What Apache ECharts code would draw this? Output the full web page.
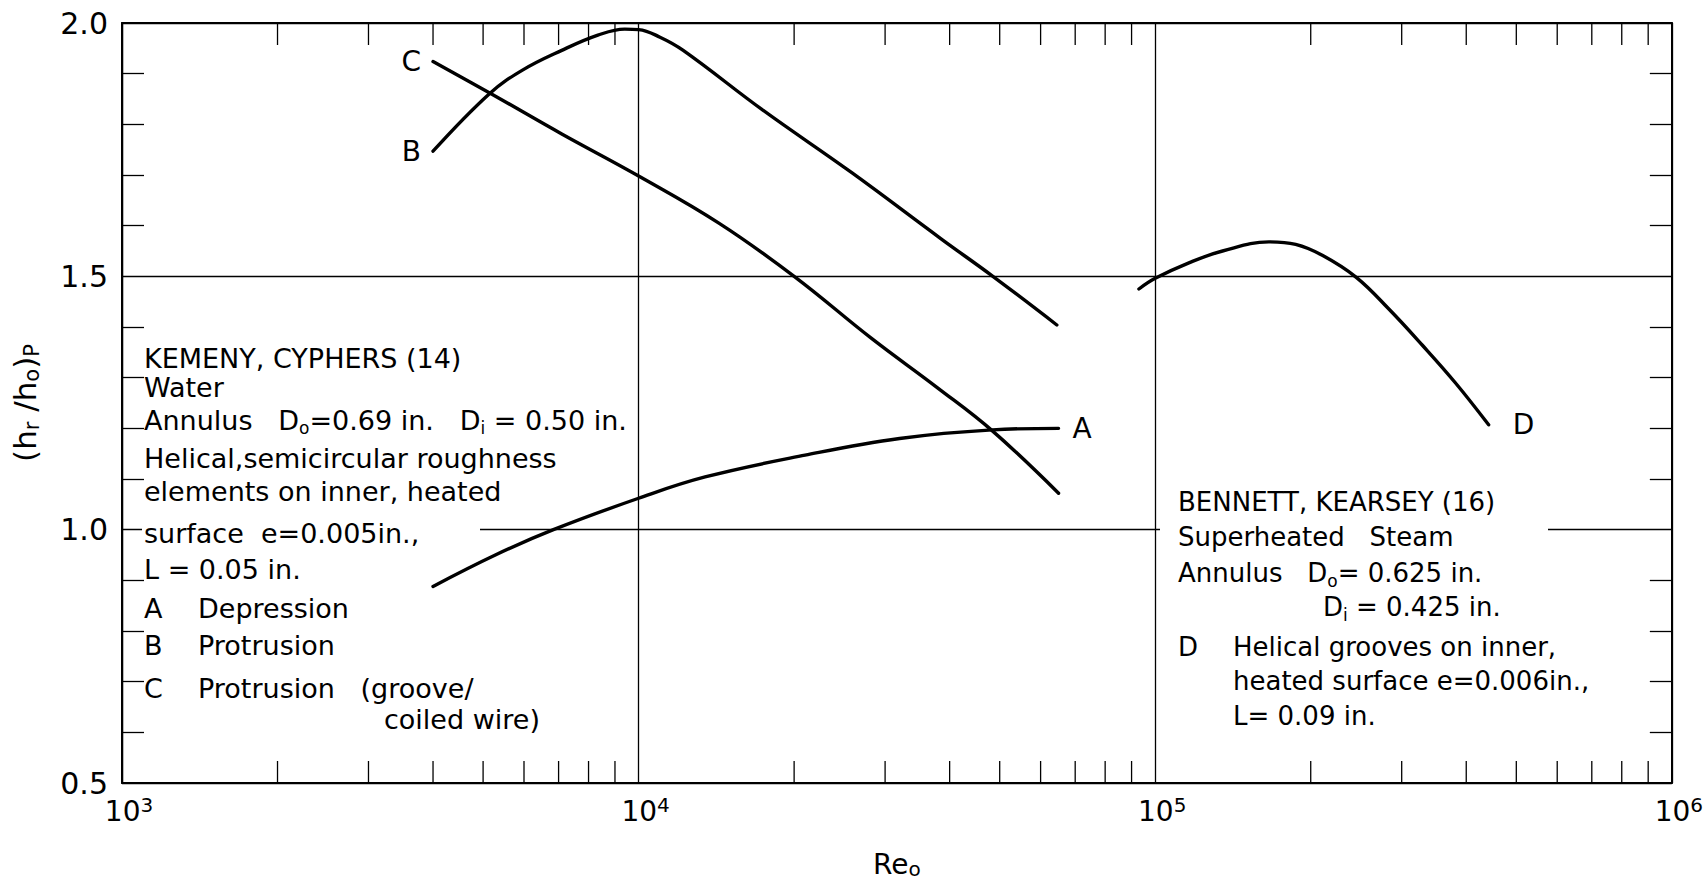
<!DOCTYPE html>
<html>
<head>
<meta charset="utf-8">
<script src="https://cdn.jsdelivr.net/npm/echarts@6/dist/echarts.min.js"></script>
<style>
html,body{margin:0;padding:0;background:#fff;}
#chart{width:1706px;height:884px;}
</style>
</head>
<body>
<div id="chart"></div>
<script>
// ---------------- DATA ----------------
// Curve A (Depression) : Re_o and (hr/ho)_P
const reA  = [4000, 5280, 6840, 10000, 13450, 21000, 32000, 48400, 65000];
const valA = [0.888, 0.950, 1.000, 1.062, 1.104, 1.147, 1.180, 1.197, 1.200];
// Curve B (Protrusion)
const reB  = [4000, 5150, 5960, 7100, 8340, 9400, 10000, 11000, 12200, 17400, 25900, 38500, 48500, 64500];
const valB = [1.747, 1.861, 1.907, 1.946, 1.976, 1.988, 1.987, 1.972, 1.946, 1.828, 1.704, 1.574, 1.500, 1.404];
// Curve C (Protrusion groove/coiled wire)
const reC  = [4000, 5150, 7100, 10000, 14300, 20000, 28200, 37900, 48400, 65000];
const valC = [1.924, 1.862, 1.781, 1.698, 1.605, 1.500, 1.378, 1.280, 1.195, 1.072];
// Curve D (Helical grooves, Bennett & Kearsey)
const reD  = [93000, 100000, 116500, 135000, 166000, 187000, 211000, 245000, 283000, 329000, 381000, 442000];
const valD = [1.475, 1.496, 1.527, 1.550, 1.568, 1.563, 1.541, 1.498, 1.436, 1.364, 1.290, 1.207];

const curveNames = ['A', 'B', 'C', 'D'];

// Axis ticks
const xMin = 1e3, xMax = 1e6;
const yMin = 0.5, yMax = 2.0, yInterval = 0.5;
const yTickLabels = ['0.5', '1.0', '1.5', '2.0'];
const xMinorMultipliers = [2, 3, 4, 5, 6, 7, 8, 9];
const xDecades = [1e3, 1e4, 1e5];

// Annotation texts
const leftNotes = [
  'KEMENY, CYPHERS (14)',
  'Water',
  'Annulus   D{sub|o}=0.69 in.   D{sub|i} = 0.50 in.',
  'Helical,semicircular roughness',
  'elements on inner, heated',
  'surface  e=0.005in.,',
  'L = 0.05 in.'
];
const leftKeyLetters = ['A', 'B', 'C'];
const leftKeyTexts = ['Depression', 'Protrusion', 'Protrusion   (groove/'];
const leftKeyExtra = 'coiled wire)';
const rightNotes = [
  'BENNETT, KEARSEY (16)',
  'Superheated   Steam',
  'Annulus   D{sub|o}= 0.625 in.'
];
const rightNoteDi = 'D{sub|i} = 0.425 in.';
const rightKeyLetter = 'D';
const rightKeyTexts = ['Helical grooves on inner,', 'heated surface e=0.006in.,', 'L= 0.09 in.'];

// ---------------- LAYOUT / STYLE ----------------
const FONT = 'DejaVu Sans';
const FS_LEFT = 27;
const FS_RIGHT = 26;
const leftNoteY = [358, 387, 420, 458, 491, 533, 569];
const leftKeyY = [608, 645, 688];
const rightNoteY = [502, 537, 573];
const rightKeyY = [647, 681, 716];

const richSub = {
  sub: { fontSize: 17, lineHeight: 18, verticalAlign: 'bottom', fontFamily: FONT, fill: '#000', color: '#000' }
};

function txt(text, x, y, fs) {
  return {
    type: 'text', x: x, y: y, z: 60,
    style: {
      text: text, fontSize: fs, fontFamily: FONT, fill: '#000',
      lineHeight: 32, align: 'left', verticalAlign: 'middle', rich: richSub
    }
  };
}

const graphics = [];
// white masks where the 1.0 grid line is interrupted by the notes
graphics.push({ type: 'rect', z: 50, shape: { x: 142, y: 528, width: 338, height: 16 }, style: { fill: '#fff' } });
graphics.push({ type: 'rect', z: 50, shape: { x: 1160, y: 528, width: 388, height: 16 }, style: { fill: '#fff' } });

leftNotes.forEach((t, i) => graphics.push(txt(t, 144, leftNoteY[i], FS_LEFT)));
leftKeyLetters.forEach((t, i) => {
  graphics.push(txt(t, 144, leftKeyY[i], FS_LEFT));
  graphics.push(txt(leftKeyTexts[i], 198, leftKeyY[i], FS_LEFT));
});
graphics.push(txt(leftKeyExtra, 384, 719, FS_LEFT));
rightNotes.forEach((t, i) => graphics.push(txt(t, 1178, rightNoteY[i], FS_RIGHT)));
graphics.push(txt(rightNoteDi, 1323, 607, FS_RIGHT));
graphics.push(txt(rightKeyLetter, 1178, rightKeyY[0], FS_RIGHT));
rightKeyTexts.forEach((t, i) => graphics.push(txt(t, 1233, rightKeyY[i], FS_RIGHT)));

// minor x ticks (2..9 x 10^n)
const xMinorTicks = [];
xDecades.forEach(d => xMinorMultipliers.forEach(m => xMinorTicks.push(d * m)));

function pairs(xs, ys) { return xs.map((x, i) => [x, ys[i]]); }

function curveSeries(name, xs, ys, labelAtStart, labelDist) {
  const data = pairs(xs, ys).map((p, i) => {
    const isLabelPt = labelAtStart ? i === 0 : i === xs.length - 1;
    if (!isLabelPt) return { value: p };
    return {
      value: p,
      label: {
        show: true, formatter: name, position: labelAtStart ? 'left' : 'right',
        distance: labelDist, fontSize: 28, fontFamily: FONT, color: '#000'
      }
    };
  });
  return {
    name: name, type: 'line', data: data, smooth: 0.4,
    symbol: 'circle', symbolSize: 0.1, showSymbol: true,
    itemStyle: { color: '#000' },
    lineStyle: { color: '#000', width: 3.4, cap: 'round', join: 'round' },
    z: 5, silent: true, animation: false
  };
}

const axisLineStyle = { color: '#000', width: 2 };
const tickLineStyle = { color: '#000', width: 1.3 };

const option = {
  backgroundColor: '#fff',
  animation: false,
  grid: { left: 118, right: 34, top: 23, bottom: 92, containLabel: false },
  xAxis: [
    {
      type: 'log', logBase: 10, min: xMin, max: xMax, position: 'bottom',
      axisLine: { show: true, onZero: false, lineStyle: axisLineStyle },
      axisTick: { show: false },
      splitLine: { show: true, lineStyle: { color: '#000', width: 1.3 } },
      axisLabel: {
        margin: 12, fontFamily: FONT, color: '#000',
        formatter: v => '{b|10}{s|' + Math.round(Math.log10(v)) + '}',
        rich: {
          b: { fontSize: 28, fontFamily: FONT, color: '#000', lineHeight: 32, padding: [0, 0, 0, 14] },
          s: { fontSize: 20, fontFamily: FONT, color: '#000', lineHeight: 18, verticalAlign: 'top' }
        }
      },
      name: 'Re{s|o}', nameLocation: 'middle', nameGap: 66,
      nameTextStyle: {
        fontSize: 28, fontFamily: FONT, color: '#000', lineHeight: 30,
        rich: { s: { fontSize: 20, fontFamily: FONT, color: '#000', lineHeight: 16, verticalAlign: 'bottom' } }
      }
    },
    {
      type: 'log', logBase: 10, min: xMin, max: xMax, position: 'top',
      axisLine: { show: true, onZero: false, lineStyle: axisLineStyle },
      axisTick: { show: false }, axisLabel: { show: false }, splitLine: { show: false }
    }
  ],
  yAxis: [
    {
      type: 'value', min: yMin, max: yMax, interval: yInterval, position: 'left',
      axisLine: { show: true, onZero: false, lineStyle: axisLineStyle },
      axisTick: { show: false, inside: true },
      minorTick: { show: true, splitNumber: 5, length: 22, lineStyle: tickLineStyle },
      splitLine: { show: true, lineStyle: { color: '#000', width: 1.3 } },
      axisLabel: {
        margin: 14, fontSize: 30, fontFamily: FONT, color: '#000',
        formatter: v => yTickLabels[Math.round((v - yMin) / yInterval)]
      },
      name: '(h{s|r} /h{s|o}){s|P}', nameLocation: 'middle', nameGap: 80, nameRotate: 90,
      nameTextStyle: {
        fontSize: 31, fontFamily: FONT, color: '#000', lineHeight: 34,
        rich: { s: { fontSize: 21, fontFamily: FONT, color: '#000', lineHeight: 16, verticalAlign: 'bottom' } }
      }
    },
    {
      type: 'value', min: yMin, max: yMax, interval: yInterval, position: 'right',
      axisLine: { show: true, onZero: false, lineStyle: axisLineStyle },
      axisTick: { show: false, inside: true },
      minorTick: { show: true, splitNumber: 5, length: 22, lineStyle: tickLineStyle },
      splitLine: { show: false }, axisLabel: { show: false }
    }
  ],
  graphic: { elements: graphics },
  series: [
    curveSeries(curveNames[0], reA, valA, false, 14),
    curveSeries(curveNames[1], reB, valB, true, 12),
    curveSeries(curveNames[2], reC, valC, true, 12),
    curveSeries(curveNames[3], reD, valD, false, 24),
    {
      type: 'custom', xAxisIndex: 0, yAxisIndex: 0, silent: true, z: 4,
      data: xMinorTicks.map(v => [v, yMin]),
      encode: { x: 0, y: 1 },
      renderItem: (params, api) => {
        const v = api.value(0);
        const b = api.coord([v, yMin]);
        const t = api.coord([v, yMax]);
        return {
          type: 'group',
          children: [
            { type: 'line', shape: { x1: b[0], y1: b[1], x2: b[0], y2: b[1] - 22 }, style: { stroke: '#000', lineWidth: 1.3 } },
            { type: 'line', shape: { x1: t[0], y1: t[1], x2: t[0], y2: t[1] + 22 }, style: { stroke: '#000', lineWidth: 1.3 } }
          ]
        };
      }
    }
  ]
};

const chart = echarts.init(document.getElementById('chart'), null, { renderer: 'svg' });
chart.setOption(option);
</script>
</body>
</html>
